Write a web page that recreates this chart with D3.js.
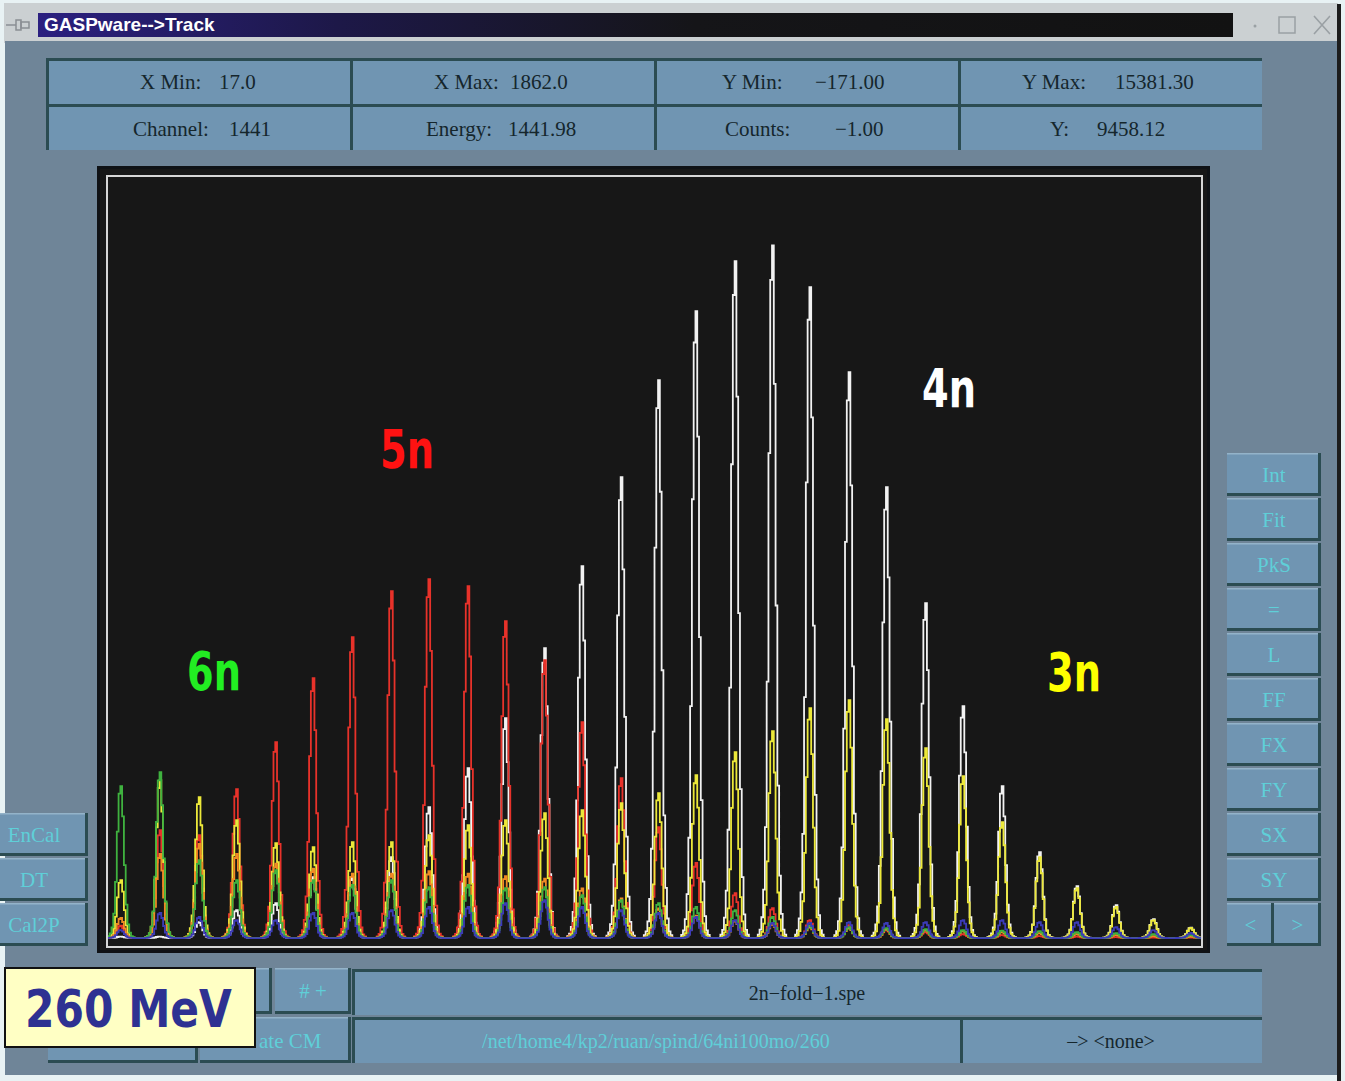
<!DOCTYPE html>
<html>
<head>
<meta charset="utf-8">
<title>GASPware Track</title>
<script src="https://cdn.jsdelivr.net/npm/d3@7"></script>
<style>
  html, body { margin: 0; padding: 0; background: #e8f2f4; }
  svg { display: block; }
</style>
</head>
<body>
<svg id="win" width="1345" height="1081"></svg>
<script>
// ---- spectrum data ---------------------------------------------------------
const xRange = [17.0, 1862.0];          // channel window
const yRange = [-171.00, 15381.30];     // count window
const binWidth = 3;                     // channels per histogram bin

// centroid channel of each line in the multiplicity-gated spectra
const peakChannels = [41, 106, 172, 236, 302, 366, 430, 496, 561, 625, 689, 755, 819, 883, 947,
                      1011, 1075, 1139, 1203, 1267, 1331, 1397, 1461, 1525, 1589, 1653, 1717, 1781, 1845];

// relative bin contents across one line (3-channel bins, maximum = 1)
const lineShape = [0.005, 0.012, 0.03, 0.07, 0.16, 0.37, 0.70, 0.95, 1.0, 0.80, 0.48, 0.22, 0.09, 0.035, 0.012, 0.005];

// peak counts per line, one array per gated spectrum
const counts4n = [30, 30, 323, 565, 706, 1231, 1231, 1635, 2644, 3431, 4440, 5852, 7507, 9303, 11260,
                  12653, 13662, 13983, 13137, 11422, 9101, 6760, 4682, 3067, 1735, 1049, 666, 380, 210];
const counts5n = [250, 2180, 2078, 3007, 3955, 5247, 6074, 7002, 7245, 7103, 6397, 5610, 4359, 3229, 2240,
                  1514, 908, 605, 363, 262, 161, 121, 80, 60, 40, 30, 20, 10, 10];
const counts3n = [1170, 3188, 2845, 2381, 1917, 1836, 1937, 1937, 2078, 2280, 2381, 2522, 2583, 2724, 2926,
                  3289, 3753, 4177, 4641, 4803, 4419, 3834, 3269, 2341, 1635, 1009, 626, 363, 202];
const countsMixed = [404, 1700, 1900, 1700, 1500, 1400, 1300, 1300, 1350, 1300, 1250, 1200, 1000, 800, 600,
                     450, 350, 280, 220, 200, 180, 160, 140, 120, 100, 80, 60, 40, 30];
const counts6n = [3067, 3350, 1574, 1170, 1372, 1170, 1070, 1170, 1029, 1070, 1009, 1029, 868, 767, 706,
                  626, 565, 424, 250, 220, 200, 180, 160, 150, 140, 120, 100, 80, 60];
const counts7n = [161, 505, 424, 363, 363, 505, 505, 565, 626, 626, 706, 767, 626, 565, 505,
                  424, 363, 303, 303, 323, 303, 323, 363, 363, 323, 323, 222, 161, 101];

// drawing order: first listed is drawn first
const spectra = [
  { name: "4n", counts: counts4n, color: "#f2f2f2" },
  { name: "5n", counts: counts5n, color: "#e8322a" },
  { name: "3n", counts: counts3n, color: "#ece83a" },
  { name: "mix", counts: countsMixed, color: "#f08a24" },
  { name: "6n", counts: counts6n, color: "#3fb23f" },
  { name: "7n", counts: counts7n, color: "#3b3bb8" }
];

// status table
const infoCells = [
  [["X Min:", "17.0"], ["X Max:", "1862.0"], ["Y Min:", "\u2212171.00"], ["Y Max:", "15381.30"]],
  [["Channel:", "1441"], ["Energy:", "1441.98"], ["Counts:", "\u22121.00"], ["Y:", "9458.12"]]
];
const rightButtons = ["Int", "Fit", "PkS", "=", "L", "FF", "FX", "FY", "SX", "SY"];
const leftButtons = ["EnCal", "DT", "Cal2P"];
const bandLabels = [
  { text: "6n", color: "#22ee22", x: 187, y: 690 },
  { text: "5n", color: "#ff1212", x: 380, y: 468 },
  { text: "4n", color: "#ffffff", x: 922, y: 407 },
  { text: "3n", color: "#ffff00", x: 1047, y: 691 }
];

// ---- chrome ----------------------------------------------------------------
const svg = d3.select("#win");
const defs = svg.append("defs");
const SERIF = "'Liberation Serif', 'DejaVu Serif', serif";
const BODY = "#6f8598", PANEL = "#7095b2", EDGE = "#2b4c52", CYAN = "#5fcfd8";

svg.append("rect").attr("width", 1345).attr("height", 1081).attr("fill", "#e8f2f4");
svg.append("rect").attr("x", 4).attr("y", 3).attr("width", 1334).attr("height", 40).attr("fill", "#cbd0d2");
svg.append("rect").attr("x", 5).attr("y", 41).attr("width", 1332).attr("height", 1034).attr("fill", BODY);
svg.append("rect").attr("x", 1337).attr("y", 4).attr("width", 4).attr("height", 1077).attr("fill", "#1c1c1c");

const tg = defs.append("linearGradient").attr("id", "titleGrad");
tg.append("stop").attr("offset", "0%").attr("stop-color", "#2b2080");
tg.append("stop").attr("offset", "25%").attr("stop-color", "#1d1848");
tg.append("stop").attr("offset", "55%").attr("stop-color", "#151518");
tg.append("stop").attr("offset", "100%").attr("stop-color", "#121212");
svg.append("rect").attr("x", 38).attr("y", 13).attr("width", 1195).attr("height", 24).attr("fill", "url(#titleGrad)");
svg.append("text").attr("x", 44).attr("y", 31).attr("fill", "#ffffff")
  .attr("font-family", "'Liberation Sans', Arial, sans-serif").attr("font-size", 19).attr("font-weight", 600)
  .text("GASPware-->Track");

// pin icon and window controls
const pin = svg.append("g").attr("stroke", "#8a8f94").attr("fill", "none").attr("stroke-width", 1.5);
pin.append("line").attr("x1", 6).attr("y1", 25).attr("x2", 16).attr("y2", 25);
pin.append("rect").attr("x", 16).attr("y", 20).attr("width", 5).attr("height", 10);
pin.append("rect").attr("x", 21).attr("y", 22).attr("width", 8).attr("height", 6);
svg.append("circle").attr("cx", 1255).attr("cy", 26).attr("r", 1.5).attr("fill", "#9aa0a4");
svg.append("rect").attr("x", 1279).attr("y", 17).attr("width", 16).attr("height", 16)
  .attr("fill", "none").attr("stroke", "#9aa0a4").attr("stroke-width", 1.5);
svg.append("path").attr("d", "M1314,16 L1330,34 M1330,16 L1314,34")
  .attr("stroke", "#9aa0a4").attr("stroke-width", 1.6);

// status table
infoCells.forEach((row, r) => {
  row.forEach((cell, c) => {
    const x0 = 46 + c * 304, y0 = 58 + r * 46;
    svg.append("rect").attr("x", x0).attr("y", y0).attr("width", 304).attr("height", 46).attr("fill", PANEL);
    svg.append("rect").attr("x", x0).attr("y", y0).attr("width", 304).attr("height", 3).attr("fill", EDGE);
    svg.append("rect").attr("x", x0).attr("y", y0).attr("width", 3).attr("height", 46).attr("fill", EDGE);
  });
});
const infoPos = [
  [[140, 219], [434, 510], [722, 815], [1022, 1115]],
  [[133, 229], [426, 508], [725, 835], [1050, 1097]]
];
infoCells.forEach((row, r) => {
  row.forEach((cell, c) => {
    const yb = r === 0 ? 89 : 136;
    [0, 1].forEach(k => {
      svg.append("text").attr("x", infoPos[r][c][k]).attr("y", yb)
        .attr("font-family", SERIF).attr("font-size", 21).attr("fill", "#15262c")
        .text(cell[k]);
    });
  });
});

// raised push button
function button(x, y, w, h, label, color) {
  const g = svg.append("g");
  g.append("rect").attr("x", x).attr("y", y).attr("width", w).attr("height", h).attr("fill", PANEL);
  g.append("rect").attr("x", x).attr("y", y).attr("width", w).attr("height", 1.5).attr("fill", "#93b3c9");
  g.append("rect").attr("x", x).attr("y", y + h - 3).attr("width", w).attr("height", 3).attr("fill", EDGE);
  g.append("rect").attr("x", x + w - 3).attr("y", y).attr("width", 3).attr("height", h).attr("fill", EDGE);
  if (label) {
    g.append("text").attr("x", x + w / 2).attr("y", y + h / 2 + 7)
      .attr("text-anchor", "middle").attr("font-family", SERIF).attr("font-size", 21)
      .attr("fill", color).text(label);
  }
  return g;
}

rightButtons.forEach((b, i) => button(1227, 453 + i * 45, 94, 43, b, CYAN));
button(1227, 903, 47, 43, "<", CYAN);
button(1274, 903, 47, 43, ">", CYAN);
leftButtons.forEach((b, i) => button(-20, 813 + i * 45, 108, 43, b, CYAN));

// bottom control rows
button(196, 968, 76, 46, null);
button(275, 968, 76, 46, "# +", CYAN);
button(48, 1017, 150, 46, null);
button(200, 1017, 151, 46, null);
svg.append("text").attr("x", 259).attr("y", 1048)
  .attr("font-family", SERIF).attr("font-size", 21).attr("fill", CYAN).text("ate CM");

function field(x, y, w, h, label, color) {
  svg.append("rect").attr("x", x).attr("y", y).attr("width", w).attr("height", h).attr("fill", PANEL);
  svg.append("rect").attr("x", x).attr("y", y).attr("width", w).attr("height", 3).attr("fill", EDGE);
  svg.append("rect").attr("x", x).attr("y", y).attr("width", 3).attr("height", h).attr("fill", EDGE);
  svg.append("text").attr("x", x + w / 2).attr("y", y + h / 2 + 8).attr("text-anchor", "middle")
    .attr("font-family", SERIF).attr("font-size", 20).attr("fill", color).text(label);
}
field(352, 969, 910, 46, "2n\u2212fold\u22121.spe", "#15262c");
field(352, 1017, 608, 46, "/net/home4/kp2/ruan/spind/64ni100mo/260", CYAN);
field(960, 1017, 302, 46, "\u2013> <none>", "#15262c");

// ---- spectrum panel ---------------------------------------------------------
svg.append("rect").attr("x", 97).attr("y", 166).attr("width", 1113).attr("height", 787).attr("fill", "#0f1216");
svg.append("rect").attr("x", 100).attr("y", 169).attr("width", 1107).attr("height", 781).attr("fill", "#171717");

const plot = { left: 107, right: 1202, top: 176, bottom: 946.5 };
const x = d3.scaleLinear().domain(xRange).range([plot.left, plot.right]);
const y = d3.scaleLinear().domain(yRange).range([plot.bottom, plot.top]);

defs.append("clipPath").attr("id", "plotClip").append("rect")
  .attr("x", plot.left).attr("y", plot.top)
  .attr("width", plot.right - plot.left).attr("height", plot.bottom - plot.top);

const nBins = Math.floor((xRange[1] - xRange[0]) / binWidth) + 1;
const centreIndex = lineShape.indexOf(d3.max(lineShape));

function histogram(heights) {
  const bins = new Array(nBins).fill(0);
  peakChannels.forEach((ch, i) => {
    const c = Math.round((ch - xRange[0]) / binWidth);
    lineShape.forEach((f, k) => {
      const idx = c + k - centreIndex;
      if (idx >= 0 && idx < nBins) bins[idx] += heights[i] * f;
    });
  });
  const pts = bins.map((v, i) => ({ ch: xRange[0] + i * binWidth - binWidth / 2, v }));
  pts.push({ ch: xRange[1] + binWidth, v: 0 });
  return pts;
}

const stepLine = d3.line()
  .x(d => x(d.ch))
  .y(d => y(d.v))
  .curve(d3.curveStepAfter);

const traces = svg.append("g").attr("clip-path", "url(#plotClip)");
spectra.forEach(s => {
  traces.append("path")
    .attr("d", stepLine(histogram(s.counts)))
    .attr("fill", "none")
    .attr("stroke", s.color)
    .attr("stroke-width", 1.8)
    .attr("stroke-linejoin", "miter");
});

// frame inside the display area
svg.append("rect").attr("x", plot.left).attr("y", plot.top)
  .attr("width", plot.right - plot.left).attr("height", plot.bottom - plot.top + 0.5)
  .attr("fill", "none").attr("stroke", "#d6d6d6").attr("stroke-width", 2);

// text squeezed horizontally to a target width (keeps the glyph height)
const LABEL_FONT = "'DejaVu Sans', 'Noto Sans', sans-serif";
function squeezedText(str, x0, y0, size, width, color) {
  const t = svg.append("text")
    .attr("font-family", LABEL_FONT).attr("font-weight", "bold").attr("font-size", size)
    .attr("fill", color).text(str);
  const natural = t.node().getComputedTextLength() || width;
  t.attr("transform", `translate(${x0},${y0}) scale(${width / natural},1)`);
  return t;
}

// multiplicity band labels
bandLabels.forEach(l => squeezedText(l.text, l.x, l.y, 54, 54, l.color));

// beam-energy tag
svg.append("rect").attr("x", 5).attr("y", 968).attr("width", 250).attr("height", 79)
  .attr("fill", "#ffffc4").attr("stroke", "#111111").attr("stroke-width", 2);
squeezedText("260 MeV", 25, 1027, 51, 207, "#2e3192");
</script>
</body>
</html>
